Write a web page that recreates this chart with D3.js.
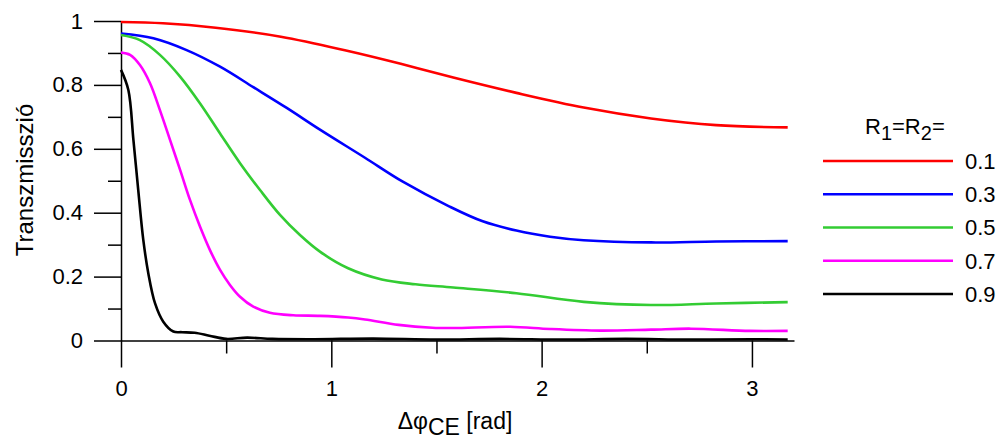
<!DOCTYPE html>
<html><head><meta charset="utf-8">
<script src="https://cdn.jsdelivr.net/npm/d3@7"></script>
<style>body{margin:0;background:#fff}svg{display:block}text{font-family:"Liberation Sans",Arial,sans-serif;fill:#000}</style>
</head><body>
<svg id="c" width="1003" height="439"></svg>
<script>
const legendValues = ["0.1","0.3","0.5","0.7","0.9"];
const colors = ["#ff0000","#0000ff","#33cc33","#ff00ff","#000000"];
const xTicks = [0,1,2,3];
const yTicks = [0,0.2,0.4,0.6,0.8,1];

const xR1 = [0,0.2,0.45,0.76,1.08,1.33,1.58,1.88,2.2,2.52,2.83,3.17];
const yR1 = [0.997,0.993,0.979,0.951,0.906,0.866,0.823,0.775,0.729,0.695,0.674,0.667];
const xR3 = [0,0.154,0.312,0.471,0.629,0.788,0.946,1.16,1.34,1.56,1.72,1.88,2.04,2.2,2.52,2.83,3.17];
const yR3 = [0.961,0.946,0.909,0.857,0.793,0.728,0.660,0.572,0.497,0.420,0.373,0.344,0.325,0.314,0.307,0.310,0.311];
const xR5 = [0,0.09,0.185,0.281,0.376,0.471,0.566,0.661,0.756,0.851,0.946,1.08,1.24,1.4,1.58,1.88,2.2,2.52,2.83,3.17];
const yR5 = [0.956,0.94,0.894,0.826,0.742,0.648,0.555,0.471,0.393,0.330,0.278,0.226,0.191,0.176,0.166,0.148,0.121,0.111,0.116,0.120];
const xR7 = [0,0.043,0.09,0.138,0.185,0.233,0.281,0.328,0.376,0.423,0.471,0.518,0.566,0.629,0.708,0.819,0.946,1.08,1.16,1.32,1.48,1.58,1.85,2.04,2.28,2.52,2.71,2.99,3.17];
const yR7 = [0.901,0.894,0.862,0.805,0.721,0.628,0.534,0.440,0.356,0.283,0.221,0.174,0.137,0.106,0.087,0.079,0.077,0.072,0.066,0.049,0.040,0.039,0.043,0.036,0.031,0.034,0.037,0.030,0.030];
const xR9 = [0,0.035,0.059,0.082,0.106,0.13,0.162,0.201,0.249,0.29,0.35,0.42,0.5,0.6,0.72,0.92,1.2,1.5,1.8,2.1,2.4,2.7,3.0,3.17];
const yR9 = [0.847,0.784,0.628,0.471,0.315,0.21,0.116,0.059,0.028,0.026,0.024,0.015,0.005,0.009,0.005,0.004,0.006,0.003,0.005,0.003,0.005,0.003,0.004,0.003];

const seriesX = [xR1,xR3,xR5,xR7,xR9];
const seriesY = [yR1,yR3,yR5,yR7,yR9];

const svg = d3.select("#c");
const x = d3.scaleLinear().domain([0,3.2]).range([121,794]);
const y = d3.scaleLinear().domain([0,1]).range([340.5,21]);

// y axis
const yMinor = [0.1,0.3,0.5,0.7,0.9];
svg.append("g").attr("transform","translate(121,0)")
  .call(d3.axisLeft(y).tickValues(yTicks).tickSize(27).tickSizeOuter(0).tickPadding(11)
    .tickFormat(d=>d===0?"0":d===1?"1":d3.format(".1f")(d)));
svg.append("g").attr("transform","translate(121,0)")
  .call(d3.axisLeft(y).tickValues(yMinor).tickSize(13).tickSizeOuter(0).tickFormat(""))
  .select(".domain").remove();
// x axis
const xMinor = [0.5,1.5,2.5];
svg.append("g").attr("transform","translate(0,340.5)")
  .call(d3.axisBottom(x).tickValues(xTicks).tickSize(27).tickSizeOuter(0).tickPadding(13).tickFormat(d3.format("d")));
svg.append("g").attr("transform","translate(0,340.5)")
  .call(d3.axisBottom(x).tickValues(xMinor).tickSize(13).tickSizeOuter(0).tickFormat(""))
  .select(".domain").remove();

svg.selectAll(".domain, .tick line").attr("stroke","#000").attr("stroke-width",1.5);
svg.selectAll(".tick text").attr("font-size",22).attr("font-family","'Liberation Sans',Arial,sans-serif");

// lines
const line = d3.line().x(d=>x(d[0])).y(d=>y(d[1])).curve(d3.curveCatmullRom.alpha(0.5));
seriesX.forEach((xs,i)=>{
  const pts = xs.map((v,j)=>[v,seriesY[i][j]]);
  svg.append("path").attr("d",line(pts)).attr("fill","none")
    .attr("stroke",colors[i]).attr("stroke-width",2.6).attr("stroke-linejoin","round");
});

// axis labels
svg.append("text").attr("transform","translate(33,180) rotate(-90)")
  .attr("text-anchor","middle").attr("font-size",24).text("Transzmisszió");
const xl = svg.append("text").attr("x",455).attr("y",429).attr("text-anchor","middle").attr("font-size",23);
xl.append("tspan").text("Δφ");
xl.append("tspan").attr("dy",6).text("CE");
xl.append("tspan").attr("dy",-6).text(" [rad]");

// legend
const lt = svg.append("text").attr("x",865).attr("y",134).attr("font-size",22);
lt.append("tspan").text("R");
lt.append("tspan").attr("dy",6).attr("font-size",20).text("1");
lt.append("tspan").attr("dy",-6).text("=R");
lt.append("tspan").attr("dy",6).attr("font-size",20).text("2");
lt.append("tspan").attr("dy",-6).text("=");
const ly = d3.scaleLinear().domain([0,4]).range([161,294]);
legendValues.forEach((v,i)=>{
  svg.append("line").attr("x1",823).attr("x2",953).attr("y1",ly(i)).attr("y2",ly(i))
    .attr("stroke",colors[i]).attr("stroke-width",2.6);
  svg.append("text").attr("x",965).attr("y",ly(i)).attr("dy","0.36em").attr("font-size",22).text(v);
});
</script>
</body></html>
